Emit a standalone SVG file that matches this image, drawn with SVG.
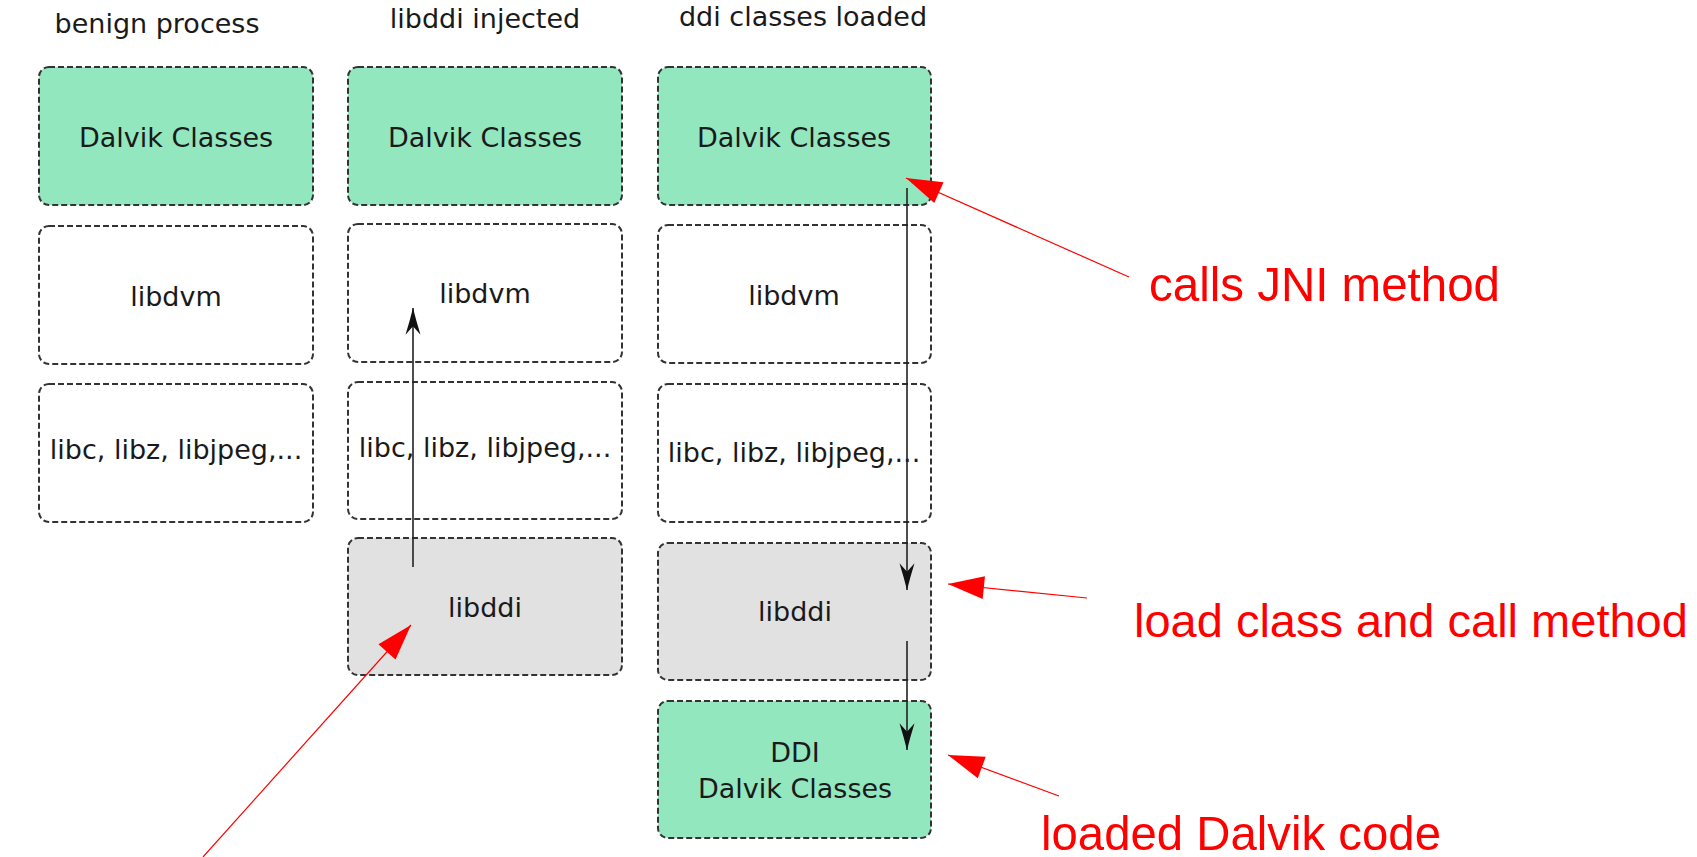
<svg xmlns="http://www.w3.org/2000/svg" width="1697" height="857" viewBox="0 0 1697 857">
  <style>
    .box { stroke: #333; stroke-width: 2; stroke-dasharray: 6 3; }
    .green { fill: #93e7bf; }
    .white { fill: #ffffff; }
    .grey { fill: #e1e1e1; }
    .t { font-family: "DejaVu Sans", Verdana, sans-serif; font-size: 27px; fill: #1a1a1a; text-anchor: middle; }
    .rt { font-family: "Liberation Sans", Arial, sans-serif; font-size: 49px; fill: #ff0000; }
    .blk { stroke: #222; stroke-width: 1.6; fill: none; }
    .red { stroke: #ff0000; stroke-width: 1.2; fill: none; }
  </style>
  <defs>
    <marker id="ah" markerUnits="userSpaceOnUse" markerWidth="30" markerHeight="20" viewBox="-26 -8 28 16" refX="0" refY="0" orient="auto" overflow="visible">
      <path d="M0,0 Q-12,-3 -25,-7 L-17,0 L-25,7 Q-12,3 0,0 Z" fill="#111"/>
    </marker>
    <marker id="rh" markerUnits="userSpaceOnUse" markerWidth="40" markerHeight="24" viewBox="-34 -11 36 22" refX="0" refY="0" orient="auto" overflow="visible">
      <path d="M0,0 L-33,-10.5 L-33,10.5 Z" fill="#ff0000"/>
    </marker>
  </defs>
  <rect width="1697" height="857" fill="#ffffff"/>

  <g id="titles">
    <text class="t" x="157" y="33">benign process</text>
    <text class="t" x="485" y="28">libddi injected</text>
    <text class="t" x="803" y="26">ddi classes loaded</text>
  </g>

  <g id="c1-dalvik"><rect class="box green" x="39" y="67" width="274" height="138" rx="10"/><text class="t" x="176" y="147">Dalvik Classes</text></g>
  <g id="c1-libdvm"><rect class="box white" x="39" y="226" width="274" height="138" rx="10"/><text class="t" x="176" y="306">libdvm</text></g>
  <g id="c1-libc"><rect class="box white" x="39" y="384" width="274" height="138" rx="10"/><text class="t" x="176" y="459">libc, libz, libjpeg,...</text></g>

  <g id="c2-dalvik"><rect class="box green" x="348" y="67" width="274" height="138" rx="10"/><text class="t" x="485" y="147">Dalvik Classes</text></g>
  <g id="c2-libdvm"><rect class="box white" x="348" y="224" width="274" height="138" rx="10"/><text class="t" x="485" y="303">libdvm</text></g>
  <g id="c2-libc"><rect class="box white" x="348" y="382" width="274" height="137" rx="10"/><text class="t" x="485" y="457">libc, libz, libjpeg,...</text></g>
  <g id="c2-libddi"><rect class="box grey" x="348" y="538" width="274" height="137" rx="10"/><text class="t" x="485" y="617">libddi</text></g>

  <g id="c3-dalvik"><rect class="box green" x="658" y="67" width="273" height="138" rx="10"/><text class="t" x="794" y="147">Dalvik Classes</text></g>
  <g id="c3-libdvm"><rect class="box white" x="658" y="225" width="273" height="138" rx="10"/><text class="t" x="794" y="305">libdvm</text></g>
  <g id="c3-libc"><rect class="box white" x="658" y="384" width="273" height="138" rx="10"/><text class="t" x="794" y="462">libc, libz, libjpeg,...</text></g>
  <g id="c3-libddi"><rect class="box grey" x="658" y="543" width="273" height="137" rx="10"/><text class="t" x="795" y="621">libddi</text></g>
  <g id="c3-ddi"><rect class="box green" x="658" y="701" width="273" height="137" rx="10"/><text class="t" x="795" y="762">DDI</text><text class="t" x="795" y="798">Dalvik Classes</text></g>

  <g id="connectors">
    <line class="blk" x1="413" y1="567" x2="413" y2="308" marker-end="url(#ah)"/>
    <line class="blk" x1="907" y1="188" x2="907" y2="590" marker-end="url(#ah)"/>
    <line class="blk" x1="907" y1="641" x2="907" y2="750" marker-end="url(#ah)"/>
    <line class="red" x1="1129" y1="277" x2="906" y2="178" marker-end="url(#rh)"/>
    <line class="red" x1="1087" y1="598" x2="948" y2="584" marker-end="url(#rh)"/>
    <line class="red" x1="1059" y1="796" x2="948" y2="755" marker-end="url(#rh)"/>
    <line class="red" x1="203" y1="857" x2="411" y2="625" marker-end="url(#rh)"/>
  </g>

  <g id="labels">
    <text class="rt" x="1149" y="301" textLength="351" lengthAdjust="spacingAndGlyphs">calls JNI method</text>
    <text class="rt" x="1134" y="637" style="font-size:47px">load class and call method</text>
    <text class="rt" x="1041" y="850" textLength="400" lengthAdjust="spacingAndGlyphs">loaded Dalvik code</text>
  </g>
</svg>
